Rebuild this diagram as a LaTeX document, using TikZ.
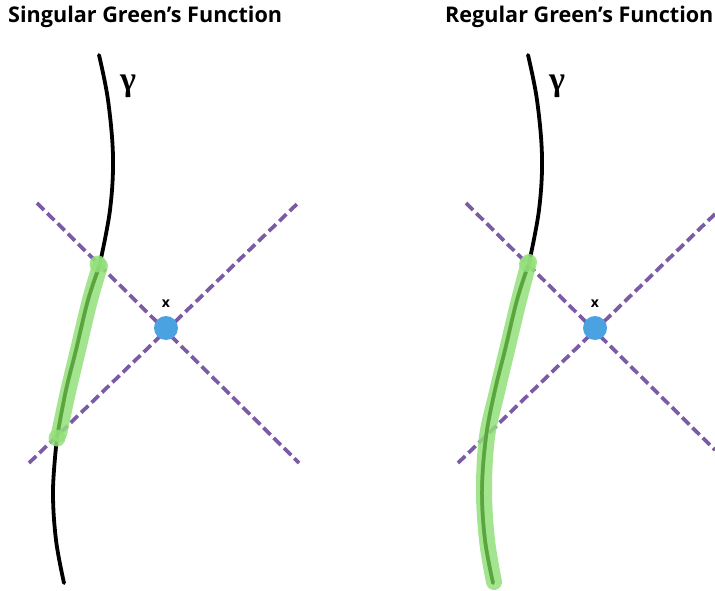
\documentclass[tikz,border=0pt]{standalone}
\usepackage{fontspec}
\setmainfont{Open Sans}
\newfontfamily\gammafont{Liberation Serif}
\begin{document}
\begin{tikzpicture}[x=1pt,y=-1pt,
  ttl/.style={anchor=base west,inner sep=0pt,font=\fontsize{21.6}{24}\selectfont\bfseries},
  gam/.style={inner sep=0pt,font=\gammafont\fontsize{34}{36}\selectfont\bfseries},
  xlab/.style={inner sep=0pt,font=\fontsize{14}{16}\selectfont\bfseries},
  cone/.style={draw=conepurple,line width=3.7pt,dash pattern=on 10pt off 4.5pt},
  world/.style={draw=black,line width=3.8pt,line cap=round},
  glow/.style={draw=lightgreen,line width=16pt,line cap=round,opacity=0.85},
  core/.style={draw=darkgreen,line width=3.5pt,line cap=round},
  gdot/.style={fill=lightgreen,opacity=0.85},
  pdot/.style={fill=pointblue}]
\definecolor{conepurple}{HTML}{7B5BA6}
\definecolor{pointblue}{HTML}{4AA3E0}
\definecolor{lightgreen}{HTML}{93E07A}
\definecolor{darkgreen}{HTML}{5AA53E}
\path[use as bounding box] (0,0) rectangle (715,591);

% ---------- left panel ----------
\node[ttl] (t1) at (8,23) {Singular Green’s Function};
\draw[cone] (37,203) -- (299,463);
\draw[cone] (29,463) -- (298,203);
\draw[world] plot[smooth,tension=0.6] coordinates {(99,55) (108,100) (113,157) (110,210) (100,263)};
\draw[world] plot[smooth,tension=0.6] coordinates {(57,437) (53,490) (56,540) (64,583)};
\draw[world] plot[smooth,tension=0.6] coordinates {(100,263) (88,300) (76,350) (66,390) (57,437)};
\draw[glow] plot[smooth,tension=0.6] coordinates {(100,266) (90,300) (78,350) (68,392) (59,434)};
\draw[core] plot[smooth,tension=0.6] coordinates {(99,268) (88,300) (76,350) (66,390) (57,437)};
\fill[gdot] (98,264) circle (8.5);
\fill[gdot] (57,438) circle (8.5);
\fill[pdot] (166,328) circle (12);
\node[xlab] (x1) at (166,304) {x};
\node[gam] (g1) at (128,86) {γ};

% ---------- right panel ----------
\begin{scope}[xshift=429pt]
\node[ttl] (t2) at (16,23) {Regular Green’s Function};
\draw[cone] (37,203) -- (286,450);
\draw[cone] (29,463) -- (286,214);
\draw[world] plot[smooth,tension=0.6] coordinates {(99,55) (108,100) (113,157) (110,210) (100,263)};
\draw[world] plot[smooth,tension=0.6] coordinates {(100,263) (88,300) (76,350) (66,390) (57,437) (53,490) (56,540) (64,583)};
\draw[glow] plot[smooth,tension=0.6] coordinates {(100,262) (90,300) (78,350) (68,392) (58,437) (55,490) (58,540) (65,582)};
\draw[core] plot[smooth,tension=0.6] coordinates {(99,266) (88,300) (76,350) (66,390) (57,437) (53,490) (56,540) (64,583)};
\fill[gdot] (98,264) circle (8);
\fill[pdot] (166,328) circle (12);
\node[xlab] (x2) at (166,304) {x};
\node[gam] (g2) at (128,86) {γ};
\end{scope}
\end{tikzpicture}
\end{document}
